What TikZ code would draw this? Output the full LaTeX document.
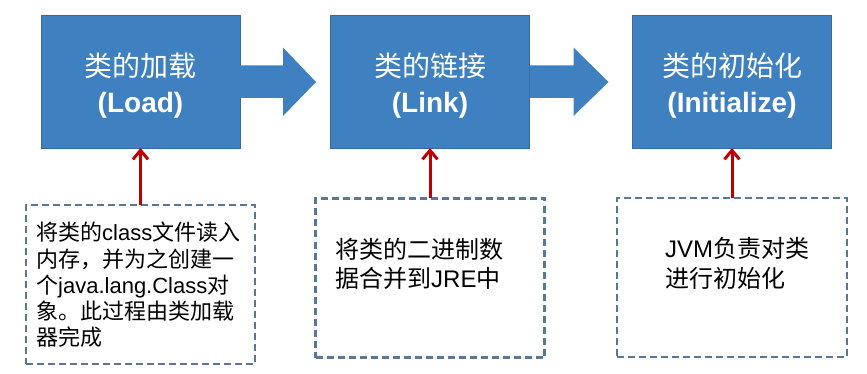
\documentclass[tikz,border=0pt]{standalone}
\usepackage{fontspec}
\setmainfont{Liberation Sans}
\newfontfamily\cjk{Noto Sans CJK SC}
\usetikzlibrary{arrows.meta,calc}
\definecolor{boxblue}{RGB}{62,128,192}
\definecolor{boxedge}{RGB}{52,106,162}
\definecolor{dashcol}{RGB}{88,120,150}
\definecolor{arrred}{RGB}{192,0,0}
\newcommand\zhs[1]{{\cjk\mdseries #1}}
\tikzset{
  bluebox/.style={fill=boxblue, draw=boxedge, line width=0.8pt, minimum width=199pt, minimum height=133pt,
    inner sep=0pt, outer sep=0pt},
  boxlabel/.style={text=white, align=center, inner sep=0pt,
    font=\fontsize{28}{36}\selectfont\bfseries},
  dashbox/.style={draw=dashcol, dash pattern=on 7pt off 4pt, line width=2.2pt, minimum width=229pt,
    minimum height=159pt, inner sep=0pt, outer sep=0pt},
  note/.style={anchor=west, align=left, inner sep=0pt, text=black},
  redarrow/.style={draw=arrred, line width=3pt, -{Straight Barb[length=9pt,width=15pt,line width=3pt]}},
  blockarrow/.style={fill=boxblue}
}
\begin{document}
\begin{tikzpicture}[x=1pt,y=-1pt]
\useasboundingbox (0,0) rectangle (867,374);
\node[bluebox] (b1) at (140.5,81.5) {};
\node[bluebox] (b2) at (430,81.5) {};
\node[bluebox] (b3) at (732,81.5) {};
\node[boxlabel] (l1) at ($(b1)+(0,4)$) {\zhs{类的加载}\\(Load)};
\node[boxlabel] (l2) at ($(b2)+(0,4)$) {\zhs{类的链接}\\(Link)};
\node[boxlabel] (l3) at ($(b3)+(0,4)$) {\zhs{类的初始化}\\(Initialize)};
% block arrows
\fill[blockarrow] ($(b1.east)+(0,-16)$) -- ++(43,0) -- ++(0,-18) -- ($(b1.east)+(76,0.5)$)
  -- ($(b1.east)+(43,34.5)$) -- ++(0,-18) -- ($(b1.east)+(0,16.5)$) -- cycle;
\fill[blockarrow] ($(b2.east)+(0,-16)$) -- ++(44,0) -- ++(0,-18) -- ($(b2.east)+(79,0.5)$)
  -- ($(b2.east)+(44,34.5)$) -- ++(0,-18) -- ($(b2.east)+(0,16.5)$) -- cycle;
% dashed boxes
\node[dashbox] (d1) at (140.5,284.5) {};
\node[dashbox] (d2) at (430,278) {};
\node[dashbox, minimum width=230pt] (d3) at (732,277.5) {};
% notes
\node[note, font=\fontsize{22}{26.3}\selectfont] (t1) at (36,285)
  {\zhs{将类的}class\zhs{文件读入}\\\zhs{内存，并为之创建一}\\\zhs{个}java.lang.Class\zhs{对}\\\zhs{象。此过程由类加载}\\\zhs{器完成}};
\node[note, font=\fontsize{24}{29}\selectfont] (t2) at (335,264)
  {\zhs{将类的二进制数}\\\zhs{据合并到}JRE\zhs{中}};
\node[note, font=\fontsize{24}{30}\selectfont] (t3) at (665,263)
  {JVM\zhs{负责对类}\\\zhs{进行初始化}};
% red arrows
\draw[redarrow] (d1.north) -- (b1.south);
\draw[redarrow] (d2.north) -- (b2.south);
\draw[redarrow] (d3.north) -- (b3.south);
\end{tikzpicture}
\end{document}
